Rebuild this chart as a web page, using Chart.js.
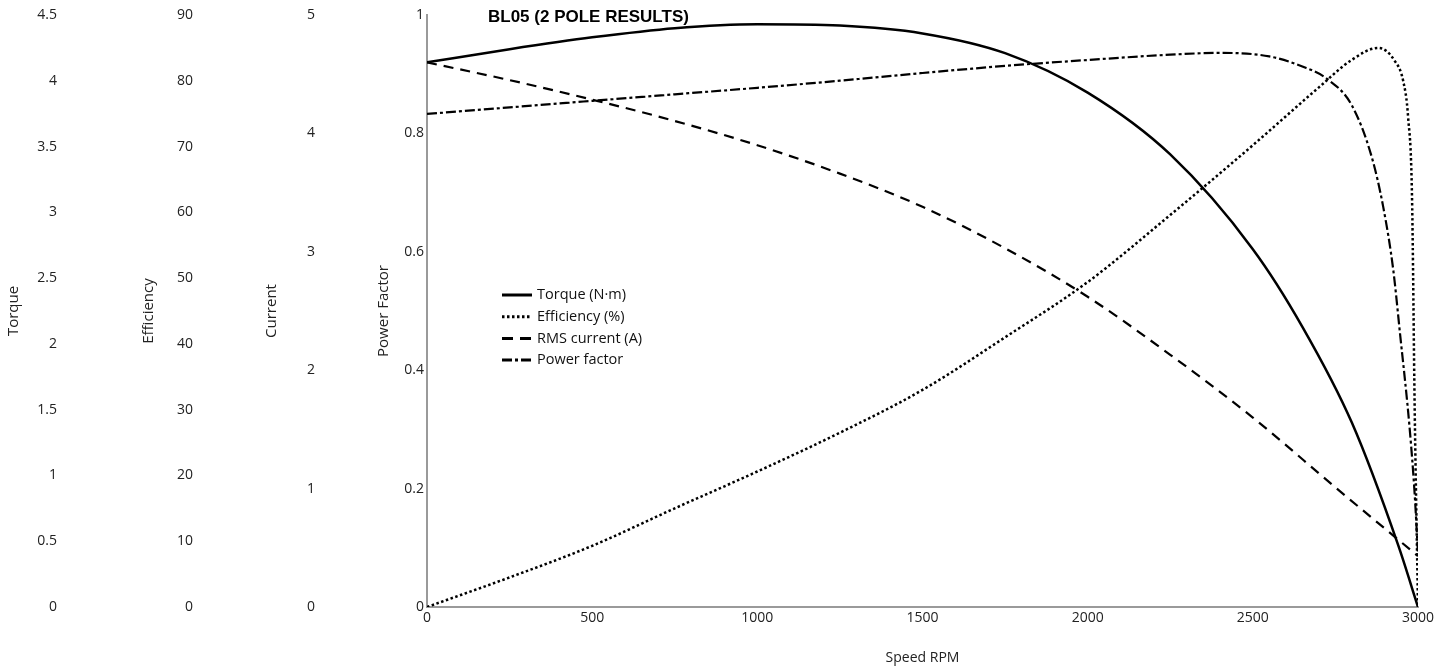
<!DOCTYPE html>
<html>
<head>
<meta charset="utf-8">
<title>BL05 (2 POLE RESULTS)</title>
<script src="https://cdn.jsdelivr.net/npm/chart.js@4.4.1/dist/chart.umd.min.js"></script>
<style>
  html, body { margin: 0; padding: 0; background: #fff; }
  #wrap { width: 1455px; height: 669px; }
</style>
</head>
<body>
<div id="wrap"><canvas id="grafico" width="1455" height="669"></canvas></div>
<script>
  // valores
  const torqueRpm = [0, 250, 500, 750, 1000, 1250, 1500, 1750, 2000, 2250, 2500, 2650, 2800, 2940, 3000];
  const torqueNm  = [4.14, 4.24, 4.33, 4.40, 4.43, 4.42, 4.36, 4.21, 3.91, 3.44, 2.72, 2.13, 1.40, 0.47, 0];

  const effRpm = [0, 250, 500, 750, 1000, 1250, 1500, 1750, 2000, 2250, 2500, 2700, 2800, 2880, 2930, 2955, 2970, 2982, 2990, 3000];
  const effPct = [0, 4.5, 9.3, 15.0, 20.6, 26.5, 33.0, 41.0, 49.4, 59.6, 70.2, 79.0, 83.2, 85.0, 83.0, 80.0, 74.5, 62, 30, 0];

  const currentRpm = [0, 250, 500, 750, 1000, 1250, 1500, 1750, 2000, 2250, 2500, 2750, 3000];
  const currentA   = [4.60, 4.45, 4.285, 4.105, 3.90, 3.66, 3.38, 3.03, 2.62, 2.13, 1.60, 1.01, 0.43];

  const pfRpm = [0, 250, 500, 750, 1000, 1250, 1500, 1750, 2000, 2250, 2400, 2550, 2650, 2725, 2800, 2860, 2895, 2925, 2945, 2975, 2990, 3000];
  const pfVal = [0.833, 0.844, 0.855, 0.866, 0.877, 0.889, 0.902, 0.914, 0.924, 0.933, 0.936, 0.930, 0.913, 0.892, 0.847, 0.76, 0.675, 0.57, 0.465, 0.30, 0.19, 0.09];

  const legendDash = [[], [2.5, 2.5], [11, 7], [10, 3, 3, 3]];

  function pts(xs, ys) {
    return xs.map((x, i) => ({ x: x, y: ys[i] }));
  }

  function yAxis(title, max, step, width, titlePad, weight, showLine) {
    return {
      type: 'linear',
      position: 'left',
      min: 0,
      max: max,
      weight: weight,
      grid: { display: false, drawTicks: false },
      border: { display: showLine, color: '#9a9a9a', width: 2 },
      ticks: { stepSize: step, padding: 3, color: '#222', font: { size: 14 }, callback: (v) => String(Number(v.toFixed(3))) },
      title: { display: true, text: title, color: '#222', font: { size: 15 }, padding: { top: titlePad, bottom: 0 } },
      afterFit: (s) => { s.width = width; }
    };
  }

  // titulo y leyenda dibujados encima del area
  const extras = {
    id: 'extras',
    afterDraw(chart) {
      const ctx = chart.ctx;
      ctx.save();
      ctx.fillStyle = '#000';
      ctx.font = 'bold 17px "Liberation Sans", Arial, sans-serif';
      ctx.textBaseline = 'alphabetic';
      ctx.fillText('BL05 (2 POLE RESULTS)', 488, 21.5);

      chart.data.datasets.forEach((ds, i) => {
        const y = 295 + i * 21.7;
        ctx.strokeStyle = '#000';
        ctx.lineWidth = 3;
        ctx.setLineDash(legendDash[i]);
        ctx.beginPath();
        ctx.moveTo(502, y);
        ctx.lineTo(532, y);
        ctx.stroke();
        ctx.setLineDash([]);
        ctx.fillStyle = '#111';
        ctx.font = '14.5px "Open Sans", sans-serif';
        ctx.textBaseline = 'middle';
        ctx.fillText(ds.label, 537, y);
      });
      ctx.restore();
    }
  };

  Chart.defaults.font.family = '"Open Sans", sans-serif';
  Chart.defaults.color = '#222';

  const grafico = document.getElementById('grafico');

  new Chart(grafico, {
    type: 'line',
    data: {
      datasets: [{
        label: 'Torque (N·m)',
        data: pts(torqueRpm, torqueNm),
        yAxisID: 'yT',
        borderColor: '#000',
        borderWidth: 2.5
      }, {
        label: 'Efficiency (%)',
        data: pts(effRpm, effPct),
        yAxisID: 'yE',
        borderColor: '#000',
        borderWidth: 2.5,
        borderDash: [2.5, 2.5]
      }, {
        label: 'RMS current (A)',
        data: pts(currentRpm, currentA),
        yAxisID: 'yC',
        borderColor: '#000',
        borderWidth: 2.2,
        borderDash: [10, 7]
      }, {
        label: 'Power factor',
        data: pts(pfRpm, pfVal),
        yAxisID: 'yP',
        borderColor: '#000',
        borderWidth: 2.2,
        borderDash: [10, 3, 3, 3]
      }]
    },
    options: {
      responsive: false,
      animation: false,
      devicePixelRatio: 1,
      layout: { padding: { left: 0, right: 37, top: 15, bottom: 0 } },
      elements: {
        point: { radius: 0 },
        line: { tension: 0.4, cubicInterpolationMode: 'monotone', fill: false }
      },
      plugins: {
        legend: { display: false },
        tooltip: { enabled: false }
      },
      scales: {
        x: {
          type: 'linear',
          min: 0,
          max: 3000,
          grid: { display: false, drawTicks: false },
          border: { color: '#9a9a9a', width: 2 },
          ticks: { stepSize: 500, padding: 3, color: '#222', font: { size: 14 }, callback: (v) => String(v) },
          title: { display: true, text: 'Speed RPM', color: '#222', font: { size: 14 }, padding: { top: 22.8, bottom: 2.6 } },
          afterFit: (s) => { s.height = 62; }
        },
        yT: yAxis('Torque', 4.5, 0.5, 60, 5, 4, false),
        yE: yAxis('Efficiency', 90, 10, 136, 79.5, 3, false),
        yC: yAxis('Current', 5, 1, 122, 66.5, 2, false),
        yP: yAxis('Power Factor', 1, 0.2, 109, 56.5, 1, true)
      }
    },
    plugins: [extras]
  });
</script>
</body>
</html>
